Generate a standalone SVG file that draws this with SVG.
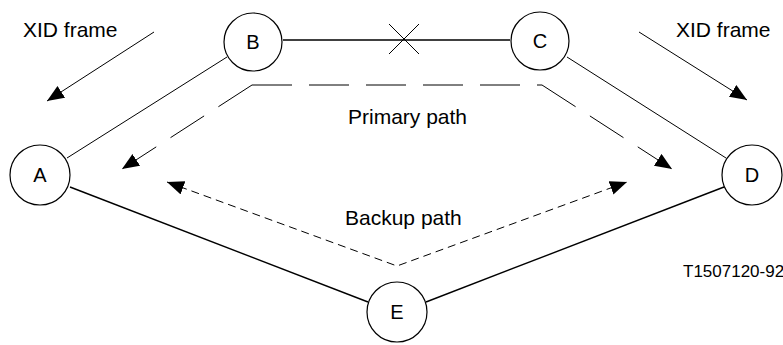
<svg xmlns="http://www.w3.org/2000/svg" width="783" height="345" viewBox="0 0 783 345">
<style>
  .node circle { fill: #fff; stroke: #000; stroke-width: 1.2; }
  .node text { font-family: "Liberation Sans", Arial, sans-serif; font-size: 20px; text-anchor: middle; fill: #000; }
  .lbl { font-family: "Liberation Sans", Arial, sans-serif; font-size: 21px; fill: #000; }
  .thin { stroke: #000; stroke-width: 1; fill: none; }
  .med { stroke: #000; stroke-width: 1.4; fill: none; }
  .primary { stroke: #000; stroke-width: 1; fill: none; stroke-dasharray: 40 17; }
  .backup { stroke: #000; stroke-width: 1; fill: none; stroke-dasharray: 8 5; }
</style>
<defs>
  <marker id="ah" markerUnits="userSpaceOnUse" markerWidth="19" markerHeight="15" refX="17" refY="7" orient="auto-start-reverse" viewBox="0 0 19 15">
    <path d="M0,0 L17,7 L0,14 z" fill="#000" stroke="none"/>
  </marker>
</defs>
<rect width="783" height="345" fill="#fff"/>
<g id="connectors">
  <line class="med" x1="283" y1="40" x2="510" y2="40"/>
  <line class="thin" x1="389" y1="24" x2="419" y2="54"/>
  <line class="thin" x1="419" y1="24" x2="389" y2="54"/>
  <line class="thin" x1="227" y1="57" x2="67" y2="158"/>
  <line class="thin" x1="567" y1="57" x2="726" y2="158"/>
  <line class="med" x1="70" y1="187" x2="368" y2="302"/>
  <line class="med" x1="426" y1="302" x2="724" y2="187"/>
  <path class="primary" d="M252,85 L122,169" marker-end="url(#ah)"/>
  <path class="primary" d="M252,85 L542,85"/>
  <path class="primary" d="M542,85 L672,169" marker-end="url(#ah)"/>
  <path class="backup" d="M167,182 L397,266 L627,182" marker-start="url(#ah)" marker-end="url(#ah)"/>
  <line class="thin" x1="154" y1="32" x2="47" y2="101" marker-end="url(#ah)"/>
  <line class="thin" x1="639" y1="32" x2="747" y2="100" marker-end="url(#ah)"/>
</g>
<g id="node-B" class="node"><circle cx="253" cy="42" r="29"/><text x="253" y="49">B</text></g>
<g id="node-C" class="node"><circle cx="540" cy="41" r="29"/><text x="540" y="48">C</text></g>
<g id="node-A" class="node"><circle cx="40" cy="175" r="30"/><text x="40" y="182">A</text></g>
<g id="node-D" class="node"><circle cx="752" cy="175" r="30"/><text x="752" y="182">D</text></g>
<g id="node-E" class="node"><circle cx="397" cy="312" r="30"/><text x="397" y="319">E</text></g>
<g id="labels">
  <text class="lbl" x="23" y="37">XID frame</text>
  <text class="lbl" x="676" y="37">XID frame</text>
  <text class="lbl" x="348" y="124">Primary path</text>
  <text class="lbl" x="345" y="225">Backup path</text>
  <text class="lbl" x="683" y="277" style="font-size:17px">T1507120-92</text>
</g>
</svg>
